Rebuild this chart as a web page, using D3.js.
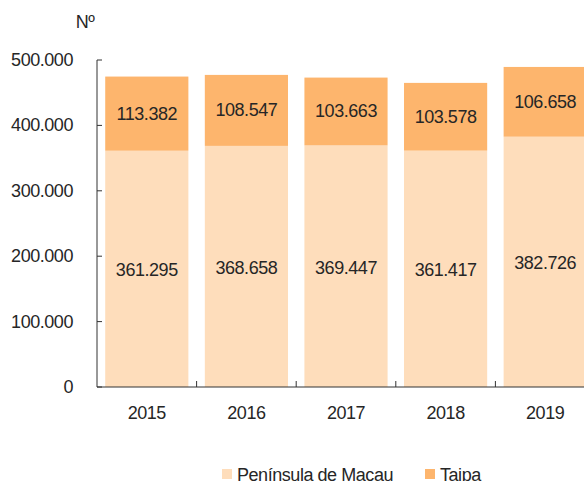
<!DOCTYPE html>
<html><head><meta charset="utf-8">
<script src="https://cdn.jsdelivr.net/npm/d3@7"></script>
<style>body{margin:0;background:#fff;}svg{display:block;font-family:"Liberation Sans",Arial,sans-serif;}</style>
</head><body>
<svg id="c" width="584" height="481"></svg>
<script>
const years = ["2015","2016","2017","2018","2019"];
const peninsula = [361295, 368658, 369447, 361417, 382726];
const taipa = [113382, 108547, 103663, 103578, 106658];
const seriesNames = ["Península de Macau", "Taipa"];
const seriesColors = ["#FEDDBB", "#FDB56D"];
const yTicks = [0, 100000, 200000, 300000, 400000, 500000];

const svg = d3.select("#c");
const fmt = v => v === 0 ? "0" : d3.format(",.0f")(v).replace(/,/g, ".");
const fmt3 = v => d3.format(",")(v).replace(/,/g, ".");
const FS = 18, LS = "-0.45px", TC = "#262626";

const x0 = 97, x1 = 595, yTop = 60, yBot = 387;
const x = d3.scaleBand().domain(years).range([x0, x1]).paddingInner(0.165).paddingOuter(0.0825);
const xb = d3.scaleBand().domain(years).range([x0, x1]);
const y = d3.scaleLinear().domain([0, 500000]).range([yBot, yTop]);

const data = years.map((yr, i) => ({yr, p: peninsula[i], t: taipa[i]}));
const stack = d3.stack().keys(["p","t"])(data);

stack.forEach((s, si) => {
  svg.append("g").selectAll("rect").data(s).join("rect")
    .attr("x", d => x(d.data.yr)).attr("width", x.bandwidth())
    .attr("y", d => y(d[1])).attr("height", d => y(d[0]) - y(d[1]))
    .attr("fill", seriesColors[si]);
  svg.append("g").selectAll("text").data(s).join("text")
    .attr("x", d => x(d.data.yr) + x.bandwidth()/2)
    .attr("y", d => (y(d[0]) + y(d[1]))/2 + (si === 0 ? 1.5 : 0))
    .attr("text-anchor", "middle").attr("dominant-baseline", "central")
    .attr("font-size", FS).attr("letter-spacing", LS).attr("fill", TC)
    .text(d => fmt3(d[1] - d[0]));
});

// Y axis
const ya = svg.append("g");
ya.append("line").attr("x1", x0).attr("x2", x0).attr("y1", yTop).attr("y2", yBot).attr("stroke", "#333").attr("stroke-width", 1);
ya.selectAll("line.t").data(yTicks).join("line").attr("class","t")
  .attr("x1", x0).attr("x2", x0 + 5).attr("y1", d => y(d)).attr("y2", d => y(d)).attr("stroke", "#333");
ya.selectAll("text").data(yTicks).join("text")
  .attr("x", 73).attr("y", d => y(d)).attr("text-anchor", "end").attr("dominant-baseline", "central")
  .attr("font-size", FS).attr("letter-spacing", LS).attr("fill", TC).text(fmt);

// X axis
const xa = svg.append("g");
xa.append("line").attr("x1", x0).attr("x2", 584).attr("y1", yBot).attr("y2", yBot).attr("stroke", "#333");
xa.selectAll("line.t").data(years).join("line").attr("class","t")
  .attr("x1", d => xb(d) + xb.bandwidth()).attr("x2", d => xb(d) + xb.bandwidth())
  .attr("y1", yBot).attr("y2", yBot - 6).attr("stroke", "#333");
xa.selectAll("text").data(years).join("text")
  .attr("x", d => x(d) + x.bandwidth()/2).attr("y", 413)
  .attr("text-anchor", "middle").attr("dominant-baseline", "central")
  .attr("font-size", FS).attr("letter-spacing", LS).attr("fill", TC).text(d => d);

// Nº label
svg.append("text").attr("x", 85).attr("y", 22).attr("text-anchor", "middle").attr("dominant-baseline", "central")
  .attr("font-size", FS).attr("letter-spacing", LS).attr("fill", TC).text("Nº");

// Legend
const legX = [222, 425];
seriesNames.forEach((n, i) => {
  svg.append("rect").attr("x", legX[i]).attr("y", 469).attr("width", 10).attr("height", 10).attr("fill", seriesColors[i]);
  svg.append("text").attr("x", legX[i] + 15).attr("y", 481).attr("font-size", FS).attr("letter-spacing", LS).attr("fill", TC).text(n);
});
</script>
</body></html>
